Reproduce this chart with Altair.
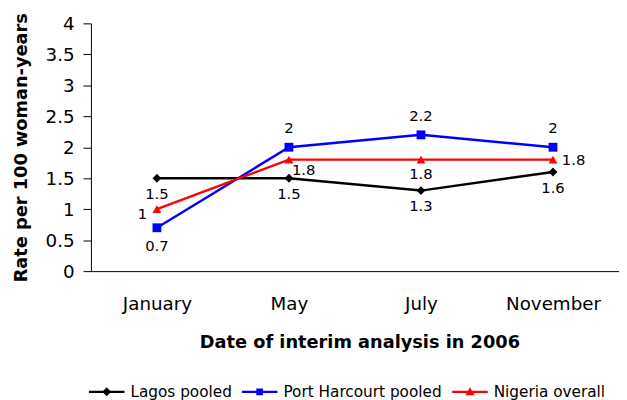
import json
import altair as alt
import pandas as pd

months = ["January", "May", "July", "November"]
series_names = ["Lagos pooled", "Port Harcourt pooled", "Nigeria overall"]
lagos = [1.5, 1.5, 1.3, 1.6]
port_harcourt = [0.7, 2.0, 2.2, 2.0]
nigeria = [1.0, 1.8, 1.8, 1.8]
y_ticks = [0, 0.5, 1, 1.5, 2, 2.5, 3, 3.5, 4]
colors = ["#000000", "#0000FF", "#FF0000"]
markers = ["diamond", "square", "triangle-up"]

rows = []
for name, vals in zip(series_names, [lagos, port_harcourt, nigeria]):
    for m, v in zip(months, vals):
        rows.append({"month": m, "series": name, "rate": v, "label": f"{v:g}"})
df = pd.DataFrame(rows)

FONT = "DejaVu Sans"

# legend symbols: a short line with the series marker on it
LINE = "M-1,-0.062H1V0.062H-1Z"
legend_paths = [
    LINE + "M-0.25,0L0,-0.25L0.25,0L0,0.25Z",
    LINE + "M-0.19,-0.19H0.19V0.19H-0.19Z",
    LINE + "M0,-0.25L0.26,0.2L-0.26,0.2Z",
]

x_enc = alt.X(
    "month:N",
    sort=months,
    scale=alt.Scale(type="point", padding=0.5),
    axis=alt.Axis(
        title="Date of interim analysis in 2006",
        labelAngle=0,
        ticks=False,
        grid=False,
        domainColor="black",
        labelColor="black",
        labelFont=FONT,
        labelFontSize=18.5,
        labelPadding=24,
        titleFont=FONT,
        titleFontSize=18,
        titleFontWeight="bold",
        titleColor="black",
        titlePadding=21,
        titleX=272,
    ),
)
y_enc = alt.Y(
    "rate:Q",
    scale=alt.Scale(domain=[0, 4], nice=False),
    axis=alt.Axis(
        values=y_ticks,
        format="~g",
        title="Rate per 100 woman-years",
        grid=False,
        domainColor="black",
        tickColor="black",
        tickSize=8,
        labelColor="black",
        labelFont=FONT,
        labelFontSize=18.5,
        labelPadding=9,
        titleFont=FONT,
        titleFontSize=18,
        titleFontWeight="bold",
        titleColor="black",
        titlePadding=15,
    ),
)
color_scale = alt.Scale(domain=series_names, range=colors)

base = alt.Chart(df)

lines = base.mark_line(strokeWidth=2.5).encode(
    x=x_enc, y=y_enc,
    color=alt.Color("series:N", scale=color_scale, legend=None),
    detail="series:N",
)

points = base.mark_point(filled=True, opacity=1, size=80).encode(
    x=x_enc, y=y_enc,
    color=alt.Color("series:N", scale=color_scale, legend=None),
    shape=alt.Shape("series:N", scale=alt.Scale(domain=series_names, range=markers), legend=None),
)

leg_props = dict(
    orient="none",
    legendX=-2,
    legendY=355,
    direction="horizontal",
    title=None,
    labelFont=FONT,
    labelFontSize=15.5,
    labelColor="black",
    labelLimit=400,
    symbolSize=1296,
    symbolStrokeWidth=0,
    symbolOpacity=1,
    labelOffset=6,
    columnPadding=10,
)
legend_layer = base.mark_point(filled=True, opacity=0).encode(
    x=x_enc, y=y_enc,
    color=alt.Color("series:N", scale=color_scale, legend=alt.Legend(**leg_props)),
    shape=alt.Shape("series:N", scale=alt.Scale(domain=series_names, range=legend_paths),
                    legend=alt.Legend(**leg_props)),
)


def labels(series, which, **kw):
    expr = f"datum.series == {json.dumps(series)} && indexof({json.dumps(which)}, datum.month) >= 0"
    return base.transform_filter(expr).mark_text(
        font=FONT, fontSize=15, baseline="middle", color="black", **kw
    ).encode(x=x_enc, y=y_enc, text="label:N")


text_layers = [
    labels("Lagos pooled", months, align="center", dy=16),
    labels("Port Harcourt pooled", ["January"], align="center", dy=19),
    labels("Port Harcourt pooled", ["May", "July", "November"], align="center", dy=-19),
    labels("Nigeria overall", ["January"], align="right", dx=-10, dy=5),
    labels("Nigeria overall", ["May"], align="left", dx=3, dy=11),
    labels("Nigeria overall", ["July"], align="center", dy=15),
    labels("Nigeria overall", ["November"], align="left", dx=9, dy=0),
]

chart = alt.layer(lines, points, legend_layer, *text_layers).resolve_scale(
    shape="independent"
).resolve_legend(
    color="independent", shape="independent"
).properties(
    width=535,
    height=251,
    autosize=alt.AutoSizeParams(type="none"),
    padding={"left": 84, "top": 13, "right": 0, "bottom": 128},
).configure_view(stroke=None)

chart.save("out.html", embed_options={"renderer": "svg", "actions": False})
